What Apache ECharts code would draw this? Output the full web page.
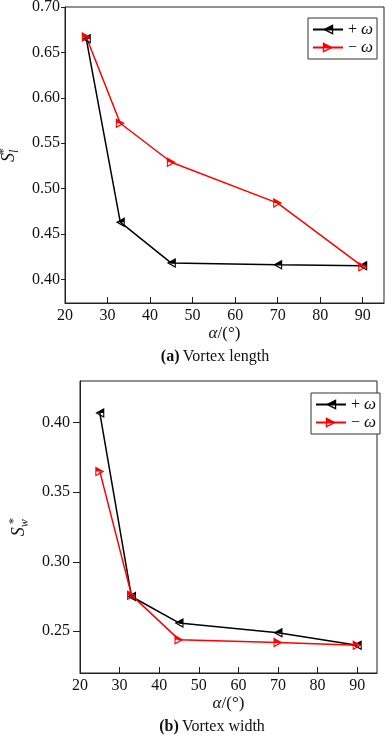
<!DOCTYPE html>
<html>
<head>
<meta charset="utf-8">
<script src="https://cdn.jsdelivr.net/npm/echarts@6/dist/echarts.min.js"></script>
<style>
  html, body { margin: 0; padding: 0; background: #fff; }
  #main { width: 387px; height: 738px; }
</style>
</head>
<body>
<div id="main"></div>
<script>
// angle of attack (deg)
var alphaDeg = [25, 33, 45, 70, 90];
// (a) vortex length
var lengthPlus = [0.665, 0.463, 0.418, 0.416, 0.415];
var lengthMinus = [0.667, 0.572, 0.529, 0.484, 0.414];
// (b) vortex width
var widthPlus = [0.407, 0.275, 0.256, 0.249, 0.240];
var widthMinus = [0.365, 0.276, 0.244, 0.242, 0.240];
// tick labels
var xTicks = [20, 30, 40, 50, 60, 70, 80, 90];
var lengthTicks = [0.40, 0.45, 0.50, 0.55, 0.60, 0.65, 0.70];
var widthTicks = [0.25, 0.30, 0.35, 0.40];

var FONT = '"Liberation Serif", "Times New Roman", serif';

// half filled triangles (top half solid, bottom half hollow)
var triLeft = 'path://M10,0 L0,5 L10,10 Z M8.8,2.0 L8.8,8.0 L2.7,5 Z M10,0 L0,5 L10,5 Z';
var triRight = 'path://M0,0 L10,5 L0,10 Z M1.2,2.0 L1.2,8.0 L7.3,5 Z M0,0 L10,5 L0,5 Z';

function pairs(xs, ys) {
    return xs.map(function (x, i) { return [x, ys[i]]; });
}

function mkSeries(name, data, color, symbol, idx) {
    return {
        name: name,
        type: 'line',
        xAxisIndex: idx,
        yAxisIndex: idx,
        data: data,
        symbol: symbol,
        symbolSize: [9, 10],
        showAllSymbol: true,
        lineStyle: {color: color, width: 1.5},
        itemStyle: {color: color, borderWidth: 0},
        emphasis: {disabled: true},
        animation: false
    };
}

function yName(sub) {
    return '{s|S}{sub|' + sub + '}{sup|*}';
}

var nameRich = {
    s: {fontFamily: FONT, fontStyle: 'italic', fontSize: 18, color: '#111', lineHeight: 24, verticalAlign: 'middle'},
    sub: {fontFamily: FONT, fontStyle: 'italic', fontSize: 12, color: '#111', lineHeight: 24, verticalAlign: 'bottom'},
    sup: {fontFamily: FONT, fontSize: 13, color: '#111', lineHeight: 24, verticalAlign: 'top', padding: [0, 0, 0, -5]}
};

var alphaRich = {
    i: {fontFamily: FONT, fontStyle: 'italic', fontSize: 17, color: '#111'},
    n: {fontFamily: FONT, fontSize: 17, color: '#111'}
};

function xAxisCfg(idx) {
    return {
        type: 'value',
        gridIndex: idx,
        min: 20,
        max: 95,
        name: '{i|α}{n|/(°)}',
        nameLocation: 'middle',
        nameGap: 22,
        nameTextStyle: {rich: alphaRich},
        axisLine: {lineStyle: {color: '#222', width: 1}},
        axisTick: {inside: true, length: 6, customValues: xTicks.slice(1), lineStyle: {color: '#222'}},
        axisLabel: {customValues: xTicks, margin: 5, fontFamily: FONT, fontSize: 16, color: '#111'},
        splitLine: {show: false}
    };
}

function yAxisCfg(idx, lo, hi, ticks, sub, gap, margin, tickLen) {
    return {
        type: 'value',
        gridIndex: idx,
        min: lo,
        max: hi,
        name: yName(sub),
        nameLocation: 'middle',
        nameGap: gap,
        nameTextStyle: {rich: nameRich},
        axisLine: {lineStyle: {color: '#222', width: 1}},
        axisTick: {inside: false, length: tickLen, customValues: ticks, lineStyle: {color: '#222'}},
        axisLabel: {
            customValues: ticks,
            margin: margin,
            fontFamily: FONT,
            fontSize: 16,
            color: '#111',
            formatter: function (v) { return v.toFixed(2); }
        },
        splitLine: {show: false}
    };
}

function legendCfg(left, top) {
    return {
        data: ['+ω', '−ω'],
        orient: 'vertical',
        left: left,
        top: top,
        padding: [3, 4],
        itemGap: 1,
        itemWidth: 30,
        itemHeight: 13,
        itemTextGap: 3,
        selectedMode: false,
        borderColor: '#333',
        borderWidth: 1,
        backgroundColor: '#fff',
        textStyle: {
            fontFamily: FONT,
            fontSize: 16,
            color: '#111',
            rich: {
                w: {fontFamily: FONT, fontStyle: 'italic', fontSize: 17, color: '#111'}
            }
        },
        formatter: function (name) {
            return name.charAt(0) + ' {w|ω}';
        }
    };
}

var chart = echarts.init(document.getElementById('main'), null, {renderer: 'canvas'});

var option = {
    animation: false,
    backgroundColor: '#fff',
    textStyle: {fontFamily: FONT},
    grid: [
        {left: 65, top: 7, width: 319, height: 296, show: true, borderColor: '#222', borderWidth: 1,
            backgroundColor: 'transparent', outerBoundsMode: 'none', containLabel: false},
        {left: 80, top: 381, width: 297, height: 292, show: true, borderColor: '#222', borderWidth: 1,
            backgroundColor: 'transparent', outerBoundsMode: 'none', containLabel: false}
    ],
    xAxis: [xAxisCfg(0), xAxisCfg(1)],
    yAxis: [
        yAxisCfg(0, 0.374, 0.70, lengthTicks, 'l', 40, 5, 4),
        yAxisCfg(1, 0.22, 0.43, widthTicks, 'w', 44, 10, 7)
    ],
    legend: [legendCfg(308, 18), legendCfg(311, 393)],
    series: [
        mkSeries('+ω', pairs(alphaDeg, lengthPlus), '#000', triLeft, 0),
        mkSeries('−ω', pairs(alphaDeg, lengthMinus), '#ff0000', triRight, 0),
        mkSeries('+ω', pairs(alphaDeg, widthPlus), '#000', triLeft, 1),
        mkSeries('−ω', pairs(alphaDeg, widthMinus), '#ff0000', triRight, 1)
    ],
    graphic: [
        {
            type: 'text',
            x: 215,
            y: 357,
            style: {
                text: '{b|(a)} {n|Vortex length}',
                align: 'center',
                verticalAlign: 'middle',
                rich: {
                    b: {fontFamily: FONT, fontWeight: 'bold', fontSize: 16, fill: '#111'},
                    n: {fontFamily: FONT, fontSize: 16, fill: '#111'}
                }
            }
        },
        {
            type: 'text',
            x: 212,
            y: 727,
            style: {
                text: '{b|(b)} {n|Vortex width}',
                align: 'center',
                verticalAlign: 'middle',
                rich: {
                    b: {fontFamily: FONT, fontWeight: 'bold', fontSize: 16, fill: '#111'},
                    n: {fontFamily: FONT, fontSize: 16, fill: '#111'}
                }
            }
        }
    ]
};

chart.setOption(option);
</script>
</body>
</html>
